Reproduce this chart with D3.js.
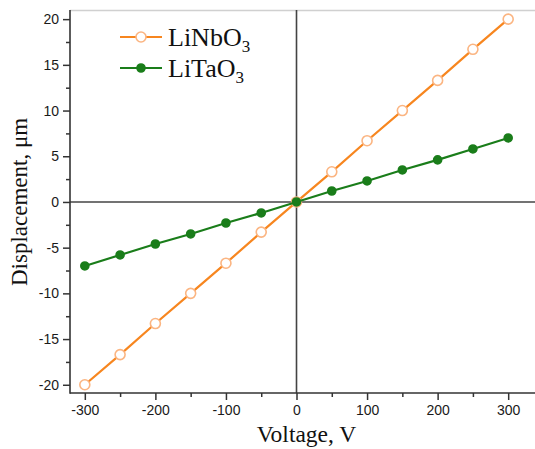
<!DOCTYPE html>
<html>
<head>
<meta charset="utf-8">
<script src="https://cdn.jsdelivr.net/npm/d3@7"></script>
<style>
  body { margin: 0; background: #fff; }
  svg { display: block; }
</style>
</head>
<body>
<div id="chart"></div>
<script>
// Data
var voltages = [-300, -250, -200, -150, -100, -50, 0, 50, 100, 150, 200, 250, 300];
var linbo3 = [-20, -16.7, -13.3, -10, -6.7, -3.3, 0, 3.3, 6.7, 10, 13.3, 16.7, 20];
var litao3 = [-7, -5.8, -4.6, -3.5, -2.3, -1.2, 0, 1.2, 2.3, 3.5, 4.6, 5.8, 7];
var xTicks = [-300, -200, -100, 0, 100, 200, 300];
var yTicks = [-20, -15, -10, -5, 0, 5, 10, 15, 20];

var W = 535, H = 449;
var m = { l: 70, t: 10, r: 0, b: 56 };

var svg = d3.select("#chart").append("svg")
  .attr("width", W)
  .attr("height", H);

var x = d3.scaleLinear().domain([-321, 338]).range([m.l, W - m.r]);
var y = d3.scaleLinear().domain([-20.9, 21]).range([H - m.b, m.t]);

// Plain hyphen for negatives, like the original
var fmt = function(d) { return String(d); };

// Top border
svg.append("line")
  .attr("x1", m.l).attr("x2", W)
  .attr("y1", m.t + 0.5).attr("y2", m.t + 0.5)
  .style("stroke", "#d0d0d0").style("stroke-width", 1.5);

// Zero lines
svg.append("line")
  .attr("x1", x(0)).attr("x2", x(0))
  .attr("y1", m.t).attr("y2", H - m.b)
  .style("stroke", "#444").style("stroke-width", 1.6);
svg.append("line")
  .attr("x1", m.l).attr("x2", W)
  .attr("y1", y(0)).attr("y2", y(0))
  .style("stroke", "#444").style("stroke-width", 1.6);

// Axes
var xAxis = d3.axisBottom(x).tickValues(xTicks).tickSize(7).tickPadding(5).tickFormat(fmt);
var xMinor = d3.axisBottom(x).tickValues(d3.range(-250, 301, 100)).tickSize(4).tickFormat("");
var yAxis = d3.axisLeft(y).tickValues(yTicks).tickSize(7).tickPadding(4).tickFormat(fmt);
var yMinor = d3.axisLeft(y).tickValues(d3.range(-17.5, 20, 5)).tickSize(4).tickFormat("");

function styleAxis(g) {
  g.select(".domain").remove();
  g.selectAll(".tick line").style("stroke", "#333").style("stroke-width", 1.5);
  g.selectAll("text")
    .style("font-family", "'Liberation Sans', Arial, sans-serif")
    .style("font-size", "14px")
    .style("fill", "#1a1a1a");
}

svg.append("g").attr("transform", "translate(0," + (H - m.b) + ")").call(xAxis).call(styleAxis);
svg.append("g").attr("transform", "translate(0," + (H - m.b) + ")").call(xMinor).call(styleAxis);
svg.append("g").attr("transform", "translate(" + m.l + ",0)").call(yAxis).call(styleAxis);
svg.append("g").attr("transform", "translate(" + m.l + ",0)").call(yMinor).call(styleAxis);

// Axis lines
svg.append("line")
  .attr("x1", m.l).attr("x2", m.l)
  .attr("y1", m.t).attr("y2", H - m.b + 0.75)
  .style("stroke", "#333").style("stroke-width", 1.6);
svg.append("line")
  .attr("x1", m.l).attr("x2", W)
  .attr("y1", H - m.b).attr("y2", H - m.b)
  .style("stroke", "#333").style("stroke-width", 1.6);

// Axis titles
svg.append("text")
  .attr("x", x(0) + 10).attr("y", 442)
  .attr("text-anchor", "middle")
  .style("font-family", "'Liberation Serif', 'Times New Roman', serif")
  .style("font-size", "23.5px")
  .style("fill", "#111")
  .text("Voltage, V");

svg.append("text")
  .attr("transform", "translate(27," + y(0) + ") rotate(-90)")
  .attr("text-anchor", "middle")
  .style("font-family", "'Liberation Serif', 'Times New Roman', serif")
  .style("font-size", "23px")
  .style("fill", "#111")
  .text("Displacement, μm");

// Series
var series = [
  { name: "LiNbO", values: linbo3, line: "#f7861f", stroke: "#fbb582", fill: "#fff", r: 5 },
  { name: "LiTaO", values: litao3, line: "#1a7d1a", stroke: "#1a7d1a", fill: "#1a7d1a", r: 4 }
];

var line = d3.line()
  .x(function(d) { return x(d[0]); })
  .y(function(d) { return y(d[1]); });

series.forEach(function(s) {
  var pts = voltages.map(function(v, i) { return [v, s.values[i]]; });
  svg.append("path")
    .datum(pts)
    .attr("d", line)
    .style("fill", "none")
    .style("stroke", s.line)
    .style("stroke-width", 2.2);
  svg.selectAll(null)
    .data(pts)
    .enter().append("circle")
    .attr("cx", function(d) { return x(d[0]); })
    .attr("cy", function(d) { return y(d[1]); })
    .attr("r", s.r)
    .style("fill", s.fill)
    .style("stroke", s.stroke)
    .style("stroke-width", 1.6);
});

// Legend
var legend = svg.append("g").attr("transform", "translate(120,37)");
series.forEach(function(s, i) {
  var g = legend.append("g").attr("transform", "translate(0," + (i * 31) + ")");
  g.append("line")
    .attr("x1", 0).attr("x2", 42)
    .style("stroke", s.line).style("stroke-width", 2.2);
  g.append("circle")
    .attr("cx", 21).attr("r", s.r)
    .style("fill", s.fill).style("stroke", s.stroke).style("stroke-width", 1.6);
  var t = g.append("text")
    .attr("x", 48).attr("y", 9)
    .style("font-family", "'Liberation Serif', 'Times New Roman', serif")
    .style("font-size", "26px")
    .style("fill", "#111")
    .text(s.name);
  t.append("tspan")
    .attr("dy", 6)
    .style("font-size", "17px")
    .text("3");
});
</script>
</body>
</html>
